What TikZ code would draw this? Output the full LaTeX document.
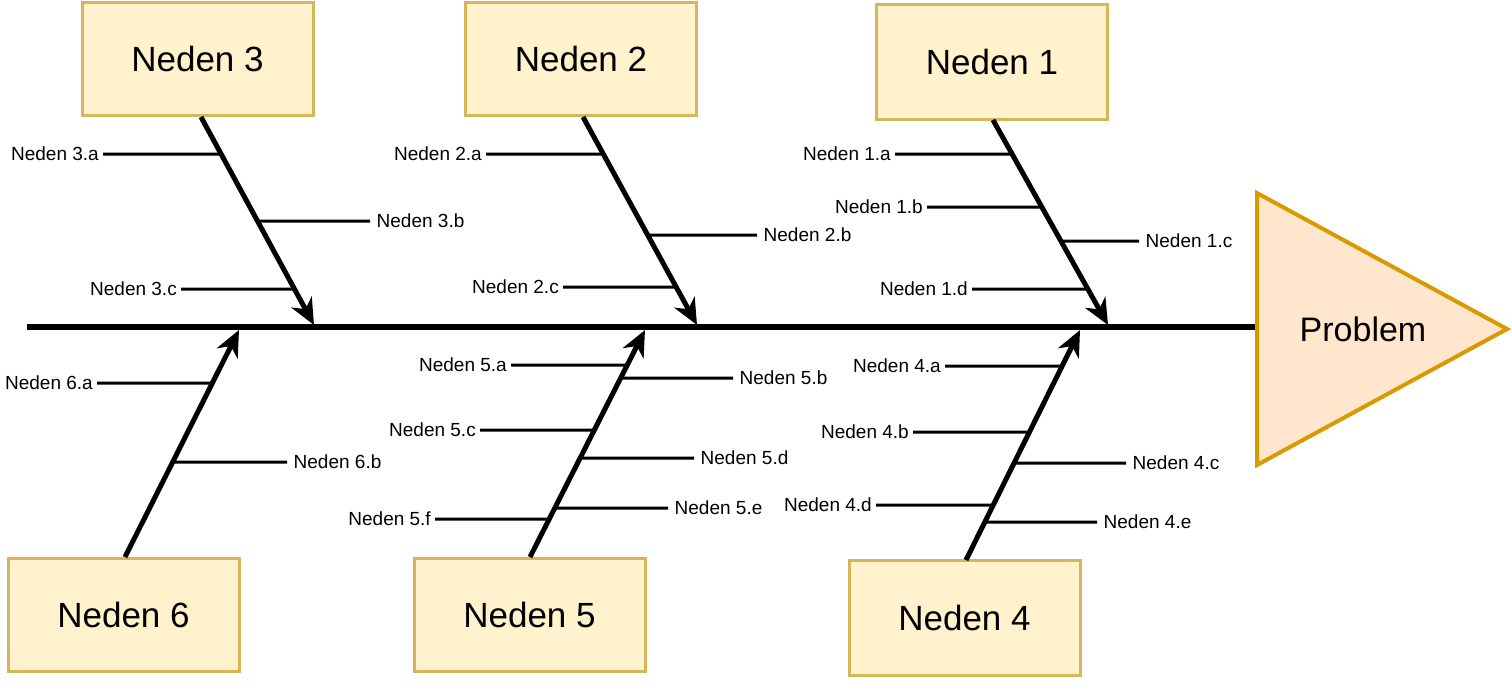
\documentclass[tikz,border=0pt]{standalone}
\usepackage{fontspec}
\setmainfont{Liberation Sans}
\usetikzlibrary{arrows.meta}
\definecolor{boxfill}{HTML}{FFF2CC}
\definecolor{boxline}{HTML}{D6B656}
\definecolor{trifill}{HTML}{FFE6CC}
\definecolor{triline}{HTML}{D79B00}
\tikzset{
  cause/.style={draw=boxline, fill=boxfill, line width=3pt, minimum width=231pt, minimum height=113pt, font=\fontsize{35}{40}\selectfont},
  lab/.style={inner ysep=1pt, font=\fontsize{19}{22}\selectfont, text height=13.5pt, text depth=0pt},
  labL/.style={lab, inner xsep=4pt, anchor=east},
  labR/.style={lab, inner xsep=6.5pt, anchor=west},
  bone/.style={line width=5pt, -{Stealth[length=26pt,width=23pt,inset=8pt]}},
  twig/.style={line width=3pt},
  spine/.style={line width=6pt}
}
\newcommand\twigL[2]{\draw[twig] (#1.east) -- (intersection cs: first line={(#2s)--(#2e)}, second line={(#1.east)--([xshift=10pt]#1.east)});}
\newcommand\twigR[2]{\draw[twig] (#1.west) -- (intersection cs: first line={(#2s)--(#2e)}, second line={(#1.west)--([xshift=10pt]#1.west)});}
\begin{document}
\begin{tikzpicture}[x=1pt,y=-1pt]
\useasboundingbox (0,0) rectangle (1512,683);
% spine
\coordinate (spS) at (27,327);
\coordinate (spE) at (1257,327);
\draw[spine] (spS) -- (spE);
% problem triangle
\draw[draw=triline, fill=trifill, line width=4pt, line join=miter] (1257,193) -- (1507,329) -- (1257,465) -- cycle;
\node[font=\fontsize{34}{40}\selectfont] (prob) at (1363,329) {Problem};
% cause boxes
\node[cause] (n3) at (197.5,58.5) {Neden 3};
\node[cause] (n2) at (581,58.5) {Neden 2};
\node[cause, minimum height=115pt] (n1) at (992,61.5) {Neden 1};
\node[cause] (n6) at (123.5,614.5) {Neden 6};
\node[cause] (n5) at (529.5,614.5) {Neden 5};
\node[cause, minimum height=115pt] (n4) at (964.5,618) {Neden 4};
% bone coordinates
\coordinate (b3s) at (201,117); \coordinate (b3e) at (314,325);
\coordinate (b2s) at (583,117); \coordinate (b2e) at (697,325);
\coordinate (b1s) at (993,120); \coordinate (b1e) at (1108,325);
\coordinate (b6s) at (125,557); \coordinate (b6e) at (239,330);
\coordinate (b5s) at (530,557); \coordinate (b5e) at (645,330);
\coordinate (b4s) at (966,560); \coordinate (b4e) at (1080,330);
% labels
\node[labL] (l3a) at (103,154) {Neden 3.a};
\node[labR] (l3b) at (370,221) {Neden 3.b};
\node[labL] (l3c) at (181,289) {Neden 3.c};
\node[labL] (l2a) at (486,154) {Neden 2.a};
\node[labR] (l2b) at (757,235) {Neden 2.b};
\node[labL] (l2c) at (563,287) {Neden 2.c};
\node[labL] (l1a) at (895,154) {Neden 1.a};
\node[labL] (l1b) at (927,207) {Neden 1.b};
\node[labR] (l1c) at (1139,241) {Neden 1.c};
\node[labL] (l1d) at (972,289) {Neden 1.d};
\node[labL] (l6a) at (97,383) {Neden 6.a};
\node[labR] (l6b) at (287,462) {Neden 6.b};
\node[labL] (l5a) at (511,365) {Neden 5.a};
\node[labR] (l5b) at (733,378) {Neden 5.b};
\node[labL] (l5c) at (480,430) {Neden 5.c};
\node[labR] (l5d) at (694,458) {Neden 5.d};
\node[labR] (l5e) at (668,508) {Neden 5.e};
\node[labL] (l5f) at (435,519) {Neden 5.f};
\node[labL] (l4a) at (945,366) {Neden 4.a};
\node[labL] (l4b) at (913,432) {Neden 4.b};
\node[labR] (l4c) at (1126,463) {Neden 4.c};
\node[labL] (l4d) at (876,505) {Neden 4.d};
\node[labR] (l4e) at (1097,522) {Neden 4.e};
% twigs
\twigL{l3a}{b3} \twigR{l3b}{b3} \twigL{l3c}{b3}
\twigL{l2a}{b2} \twigR{l2b}{b2} \twigL{l2c}{b2}
\twigL{l1a}{b1} \twigL{l1b}{b1} \twigR{l1c}{b1} \twigL{l1d}{b1}
\twigL{l6a}{b6} \twigR{l6b}{b6}
\twigL{l5a}{b5} \twigR{l5b}{b5} \twigL{l5c}{b5} \twigR{l5d}{b5} \twigR{l5e}{b5} \twigL{l5f}{b5}
\twigL{l4a}{b4} \twigL{l4b}{b4} \twigR{l4c}{b4} \twigL{l4d}{b4} \twigR{l4e}{b4}
% bones
\draw[bone] (b3s) -- (b3e);
\draw[bone] (b2s) -- (b2e);
\draw[bone] (b1s) -- (b1e);
\draw[bone] (b6s) -- (b6e);
\draw[bone] (b5s) -- (b5e);
\draw[bone] (b4s) -- (b4e);
\end{tikzpicture}
\end{document}
